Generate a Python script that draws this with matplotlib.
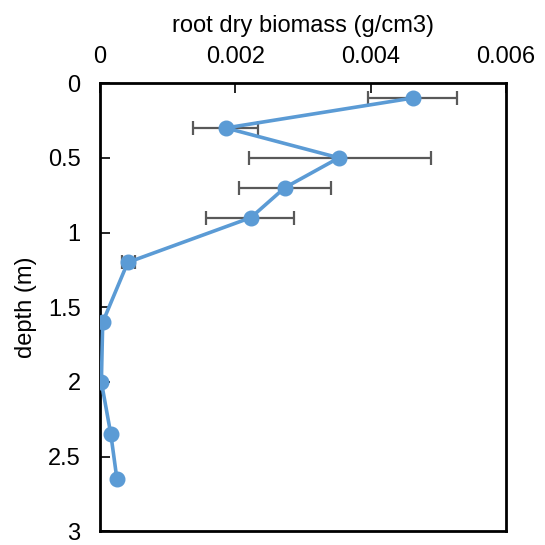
import numpy as np
import matplotlib
matplotlib.use("Agg")
import matplotlib.pyplot as plt

plt.rcParams['font.family'] = ['Liberation Sans', 'DejaVu Sans']

# root dry biomass (g/cm3) per depth (m)
depth = [0.1, 0.3, 0.5, 0.7, 0.9, 1.2, 1.6, 2.0, 2.35, 2.65]
biomass = [0.00462, 0.00186, 0.00353, 0.00273, 0.00223, 0.00041, 0.00004, 0.00002, 0.00016, 0.00025]
err_lo = [0.00396, 0.00137, 0.00220, 0.00205, 0.00157, 0.00033, 0.00004, 0.00002, 0.00016, 0.00022]
err_hi = [0.00527, 0.00233, 0.00489, 0.00342, 0.00287, 0.00051, 0.00004, 0.00002, 0.00016, 0.00028]

blue = '#5B9BD5'
grey = '#595959'

x = np.array(biomass)
xerr = [x - np.array(err_lo), np.array(err_hi) - x]

fig = plt.figure(figsize=(5.45, 5.45), dpi=100)
ax = fig.add_axes([0.1835, 0.025, 0.745, 0.8225])

ax.errorbar(biomass, depth, xerr=xerr, fmt='none', ecolor=grey, elinewidth=1.6,
            capsize=5, capthick=1.6, zorder=2)
ax.plot(biomass, depth, color=blue, lw=2.6, marker='o', markersize=10.5, zorder=3)

ax.set_xlim(0, 0.006)
ax.set_ylim(3, 0)
ax.set_xticks([0, 0.002, 0.004, 0.006])
ax.set_xticklabels(['0', '0.002', '0.004', '0.006'])
ax.set_yticks([0, 0.5, 1, 1.5, 2, 2.5, 3])
ax.set_yticklabels(['0', '0.5', '1', '1.5', '2', '2.5', '3'])

ax.xaxis.tick_top()
ax.xaxis.set_label_position('top')
ax.tick_params(axis='x', direction='in', length=7, width=1.2, pad=11, labelsize=17)
ax.tick_params(axis='y', direction='in', length=7, width=1.2, pad=14, labelsize=17)

for s in ax.spines.values():
    s.set_linewidth(2)

ax.set_xlabel('root dry biomass (g/cm3)', fontsize=17, labelpad=10)
ax.set_ylabel('depth (m)', fontsize=17, labelpad=8)

fig.savefig('out.png', dpi=100)
